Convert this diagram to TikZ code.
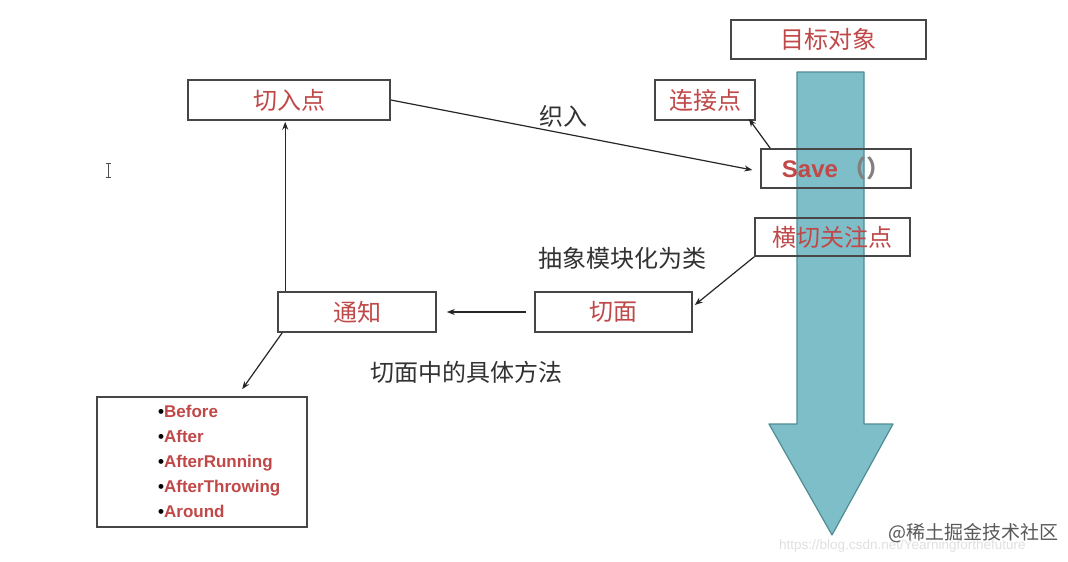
\documentclass[tikz,border=0pt]{standalone}
\usepackage{fontspec}
\setmainfont{Liberation Sans}
\newfontfamily\cjk{Noto Sans CJK SC}
\usetikzlibrary{arrows.meta,calc}
\definecolor{boxtxt}{RGB}{192,72,72}
\definecolor{lbl}{RGB}{50,50,50}
\definecolor{teal1}{RGB}{125,190,200}
\definecolor{teal2}{RGB}{80,140,148}
\definecolor{edge}{RGB}{70,70,70}
\tikzset{
  box/.style={draw=edge, line width=1.6pt, minimum height=40pt, inner sep=0pt,
    font=\cjk\fontsize{24}{28}\selectfont, text=boxtxt},
  lab/.style={font=\cjk\fontsize{24}{28}\selectfont, text=lbl, inner sep=0pt},
  arr/.style={-{Stealth[length=8pt,width=6pt]}, line width=1.2pt, draw=black!85},
  itm/.style={font=\bfseries\fontsize{17}{25}\selectfont, text=boxtxt, align=left, inner sep=0pt}
}
\begin{document}
\begin{tikzpicture}[x=1pt,y=-1pt]
\useasboundingbox[fill=white] (0,0) rectangle (1068,562);
% big arrow
\path[fill=teal1, draw=teal2, line width=1.2pt, line join=round]
  (797,72) -- (864,72) -- (864,424) -- (893,424) -- (832,535) -- (769,424) -- (797,424) -- cycle;
% boxes
\node[box, minimum width=195pt, minimum height=39pt] (target) at (828.5,39.5) {目标对象};
\node[box, minimum width=100pt] (joinpt) at (705,100) {连接点};
\node[box, minimum width=150pt, minimum height=39pt] (save) at (836,168.5)
  {\fontspec{Liberation Sans}\bfseries Save\,{\cjk\color{gray}（）}};
\node[box, minimum width=155pt, minimum height=38pt] (cross) at (832.5,237) {横切关注点};
\node[box, minimum width=202pt] (cut) at (289,100) {切入点};
\node[box, minimum width=157pt] (aspect) at (613.5,312) {切面};
\node[box, minimum width=158pt] (notice) at (357,312) {通知};
\node[box, minimum width=210pt, minimum height=130pt] (list) at (202,462) {};
\node[itm, anchor=north west] (items) at (158,405) {%
  {\color{black}\textbullet}Before\\
  {\color{black}\textbullet}After\\
  {\color{black}\textbullet}AfterRunning\\
  {\color{black}\textbullet}AfterThrowing\\
  {\color{black}\textbullet}Around};
% labels
\node[lab] (weave) at (563,116) {织入};
\node[lab] (abstr) at (622,258) {抽象模块化为类};
\node[lab] (method) at (466,372) {切面中的具体方法};
% connectors
\draw[arr, shorten >=8pt] (cut.east) -- ($(save.west)+(0,3)$);
\draw[arr] ($(save.north west)+(10,0)$) -- ($(joinpt.south east)+(-7,-2)$);
\draw[arr] (cross.south west) -- ($(aspect.east)+(2,-7)$);
\draw[arr, shorten <=8pt, shorten >=10pt] (aspect.west) -- (notice.east);
\draw[arr, shorten >=1pt] ($(notice.north west)+(8,0)$) -- ($(cut.south west)+(98,0)$);
\draw[arr] ($(notice.south west)+(5,0)$) -- ($(list.north west)+(146,-7)$);
% cursor
\draw[black!70, line width=0.8pt] (108,163) -- (108,177) (105.5,163) -- (110.5,163) (105.5,177) -- (110.5,177);
% watermark
\node[font=\fontsize{13.5}{16}\selectfont, text=black!12, anchor=west, inner sep=0pt] (url) at (779,546) {https://blog.csdn.net/Yearningforthefuture};
\node[font=\cjk\fontsize{19}{22}\selectfont, text=black!65, anchor=west, inner sep=0pt] (wm) at (888,533) {@稀土掘金技术社区};
\end{tikzpicture}
\end{document}
